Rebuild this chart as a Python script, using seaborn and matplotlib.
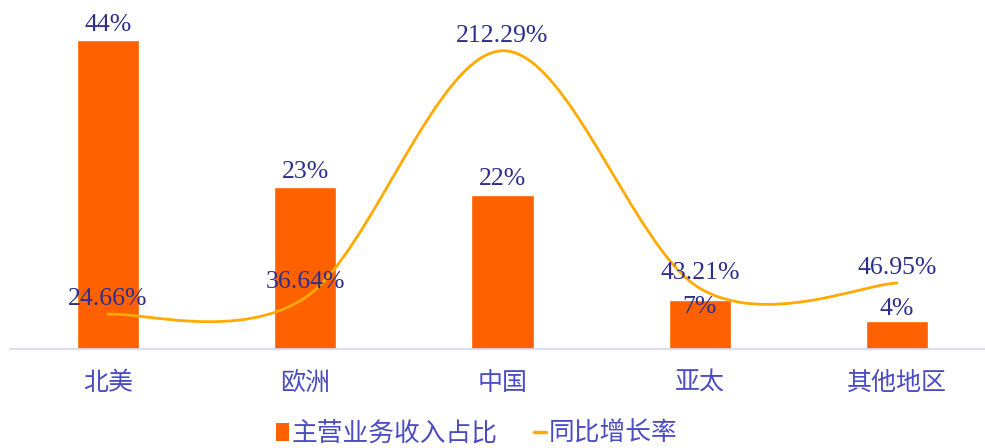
import matplotlib
matplotlib.use('Agg')
import matplotlib.pyplot as plt
import seaborn as sns
import numpy as np
from matplotlib.path import Path
from matplotlib.patches import PathPatch, Patch
from matplotlib.lines import Line2D

# data
regions = ['北美', '欧洲', '中国', '亚太', '其他地区']
revenue_share = [44, 23, 22, 7, 4]              # 主营业务收入占比 (%)
yoy_growth = [24.66, 36.64, 212.29, 43.21, 46.95]  # 同比增长率 (%)

bar_color = '#FF6000'
line_color = '#FFAA00'
label_color = '#2E2E8C'
tick_color = '#4B4BC4'

sns.set_theme(style='white')
plt.rcParams['font.family'] = ['Noto Sans CJK SC', 'DejaVu Sans']

fig = plt.figure(figsize=(9.85, 4.48), dpi=100)
ax = fig.add_axes([9.5 / 985, 99 / 448, 975.5 / 985, 349 / 448])

sns.barplot(x=regions, y=revenue_share, color=bar_color, width=0.315,
            saturation=1, ax=ax)
ax.set_xlim(-0.5, 4 + 88 / 197.25)
ax.set_ylim(0, 49.7)

# bar labels (7% sits slightly inside its bar in the original)
bar_offsets = [3, 3, 3, -13, 1]
for i, v in enumerate(revenue_share):
    ax.annotate(f'{v}%', (i, v), xytext=(0, bar_offsets[i]), textcoords='offset points',
                ha='center', va='bottom', fontsize=18.5, color=label_color,
                family='Liberation Serif')

# secondary axis: smoothed growth line
ax2 = ax.twinx()
ax2.set_ylim(0, 248.4)
xs = np.arange(len(yoy_growth), dtype=float)
ys = np.array(yoy_growth, dtype=float)
pts = list(zip(xs, ys))
verts = [pts[0]]
codes = [Path.MOVETO]
n = len(pts)
for i in range(n - 1):
    p0 = np.array(pts[i - 1] if i > 0 else pts[i])
    p1 = np.array(pts[i])
    p2 = np.array(pts[i + 1])
    p3 = np.array(pts[i + 2] if i + 2 < n else pts[i + 1])
    c1 = p1 + (p2 - p0) / 6
    c2 = p2 - (p3 - p1) / 6
    verts += [tuple(c1), tuple(c2), tuple(p2)]
    codes += [Path.CURVE4] * 3
ax2.add_patch(PathPatch(Path(verts, codes), facecolor='none', edgecolor=line_color,
                        lw=2, capstyle='round', zorder=3))
for x, v in zip(xs, ys):
    ax2.annotate(f'{v:.2f}%', (x, v), xytext=(0, 3), textcoords='offset points',
                 ha='center', va='bottom', fontsize=18.5, color=label_color,
                 family='Liberation Serif', zorder=4)

for a in (ax, ax2):
    for s in ['top', 'right', 'left']:
        a.spines[s].set_visible(False)
    a.set_yticks([])
    a.set_ylabel('')
ax2.spines['bottom'].set_visible(False)
ax.spines['bottom'].set_color('#D6D6F0')
ax.spines['bottom'].set_linewidth(1.2)
ax.tick_params(axis='x', length=0, pad=15, labelsize=18, labelcolor=tick_color)
ax.set_xlabel('')

handles = [Patch(facecolor=bar_color, edgecolor='none'),
           Line2D([0], [0], color=line_color, lw=2.5)]
leg = fig.legend(handles, ['主营业务收入占比', '同比增长率'], loc='center',
                 bbox_to_anchor=(477 / 985, 1 - 434 / 448), ncol=2, frameon=False,
                 fontsize=18.5, handlelength=0.5, handleheight=0.7, handletextpad=0.1,
                 columnspacing=1.4, borderpad=0)
for t in leg.get_texts():
    t.set_color(tick_color)

fig.savefig('out.png', dpi=100)
